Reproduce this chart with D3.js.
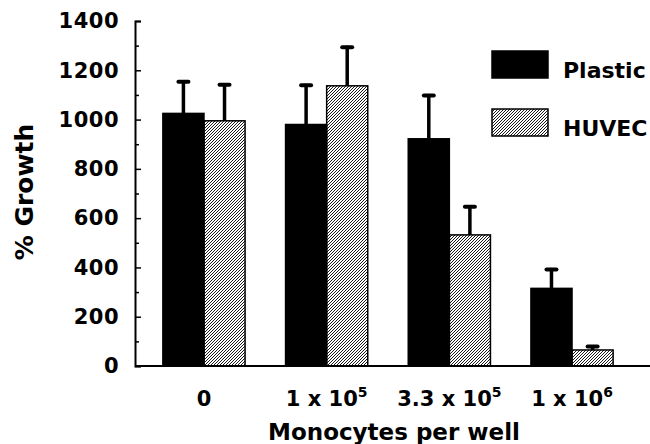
<!DOCTYPE html>
<html>

<head>
  <meta charset="utf-8">
  <title>Monocytes per well</title>
  <script src="https://d3js.org/d3.v7.min.js"></script>
  <style>
    body { margin: 0; background: #fff; }
    text { font-family: "DejaVu Sans", sans-serif; font-weight: bold; fill: #000; }
  </style>
</head>

<body>
  <svg width="650" height="444"></svg>
  <script>
    // values
    const categories = ["0", "1e5", "3.3e5", "1e6"];
    const tickBase = ["0", "1 x 10", "3.3 x 10", "1 x 10"];
    const tickExp = ["", "5", "5", "6"];
    const seriesNames = ["Plastic", "HUVEC"];
    const plasticMean = [1025, 980, 922, 315];
    const plasticErr = [135, 165, 182, 83];
    const huvecMean = [995, 1137, 532, 65];
    const huvecErr = [152, 163, 120, 20];
    const yTicks = [0, 200, 400, 600, 800, 1000, 1200, 1400];

    const svg = d3.select("svg");

    const defs = svg.append("defs");
    defs.append("pattern")
      .attr("id", "hatch")
      .attr("patternUnits", "userSpaceOnUse")
      .attr("width", 3)
      .attr("height", 3)
      .append("path")
      .attr("d", "M-1,1 l2,-2 M0,3 l3,-3 M2,4 l2,-2")
      .attr("stroke", "#000")
      .attr("stroke-width", 0.9);

    const plotLeft = 135, plotTop = 21, plotBottom = 366;

    const y = d3.scaleLinear().domain([0, 1400]).range([plotBottom, plotTop]);

    const x0 = d3.scaleBand()
      .domain(categories)
      .range([136, 640])
      .paddingInner(0.33)
      .paddingOuter(0.219);

    const x1 = d3.scaleBand()
      .domain(seriesNames)
      .range([0, x0.bandwidth()]);

    const fills = { Plastic: "#000", HUVEC: "url(#hatch)" };

    const rows = [];
    categories.forEach((c, i) => {
      rows.push({ cat: c, series: "Plastic", value: plasticMean[i], err: plasticErr[i] });
      rows.push({ cat: c, series: "HUVEC", value: huvecMean[i], err: huvecErr[i] });
    });

    // bars
    svg.append("g")
      .selectAll("rect")
      .data(rows)
      .enter()
      .append("rect")
      .attr("x", d => x0(d.cat) + x1(d.series))
      .attr("y", d => y(d.value))
      .attr("width", x1.bandwidth())
      .attr("height", d => y(0) - y(d.value))
      .attr("fill", d => fills[d.series])
      .attr("stroke", "#000")
      .attr("stroke-width", 1.5);

    // error bars (upper only)
    const err = svg.append("g");
    err.selectAll("line.stem")
      .data(rows)
      .enter()
      .append("line")
      .attr("class", "stem")
      .attr("x1", d => x0(d.cat) + x1(d.series) + x1.bandwidth() / 2)
      .attr("x2", d => x0(d.cat) + x1(d.series) + x1.bandwidth() / 2)
      .attr("y1", d => y(d.value))
      .attr("y2", d => y(d.value + d.err))
      .attr("stroke", "#000")
      .attr("stroke-width", 3.5);
    err.selectAll("line.cap")
      .data(rows)
      .enter()
      .append("line")
      .attr("class", "cap")
      .attr("x1", d => x0(d.cat) + x1(d.series) + x1.bandwidth() / 2 - 5)
      .attr("x2", d => x0(d.cat) + x1(d.series) + x1.bandwidth() / 2 + 5)
      .attr("y1", d => y(d.value + d.err) + 1.5)
      .attr("y2", d => y(d.value + d.err) + 1.5)
      .attr("stroke", "#000")
      .attr("stroke-width", 4)
      .attr("stroke-linecap", "round");

    // y axis: minor ticks, then major ticks with labels
    svg.append("g")
      .attr("transform", `translate(${plotLeft},0)`)
      .call(d3.axisLeft(y).tickValues(d3.range(100, 1400, 200)).tickSize(-4).tickFormat(""))
      .call(g => g.select(".domain").remove())
      .call(g => g.selectAll("line").attr("stroke-width", 1.5));

    svg.append("g")
      .attr("transform", `translate(${plotLeft},0)`)
      .call(d3.axisLeft(y).tickValues(yTicks).tickFormat(d3.format("d"))
        .tickSizeInner(-6).tickSizeOuter(-6).tickPadding(16))
      .call(g => g.select(".domain").attr("stroke-width", 2))
      .call(g => g.selectAll(".tick line").attr("stroke-width", 1.5))
      .call(g => g.selectAll("text")
        .attr("font-family", "DejaVu Sans")
        .attr("font-weight", "bold")
        .attr("font-size", 21)
        .attr("letter-spacing", 0.5)
        .attr("fill", "#000"));

    // x baseline
    svg.append("line")
      .attr("x1", plotLeft)
      .attr("x2", 650)
      .attr("y1", y(0))
      .attr("y2", y(0))
      .attr("stroke", "#000")
      .attr("stroke-width", 2);

    // x tick labels with superscripts
    const xAxis = svg.append("g")
      .attr("transform", `translate(0,${y(0)})`)
      .call(d3.axisBottom(x0).tickSize(0).tickFormat(""))
      .call(g => g.select(".domain").remove());

    xAxis.selectAll(".tick text")
      .attr("y", 40)
      .attr("dy", null)
      .attr("font-family", "DejaVu Sans")
      .attr("font-weight", "bold")
      .attr("font-size", 21)
      .attr("fill", "#000")
      .each(function (d, i) {
        const t = d3.select(this);
        t.append("tspan").text(tickBase[i]);
        if (tickExp[i]) {
          t.append("tspan")
            .attr("font-size", 14)
            .attr("dy", -9)
            .text(tickExp[i]);
        }
      });

    // axis titles
    svg.append("text")
      .attr("transform", "rotate(-90)")
      .attr("x", -192)
      .attr("y", 33)
      .attr("text-anchor", "middle")
      .attr("font-size", 25)
      .text("% Growth");

    svg.append("text")
      .attr("x", 394)
      .attr("y", 440)
      .attr("text-anchor", "middle")
      .attr("font-size", 23)
      .text("Monocytes per well");

    // legend
    const legendY = [51, 109];
    const legend = svg.append("g")
      .selectAll("g")
      .data(seriesNames)
      .enter()
      .append("g")
      .attr("transform", (d, i) => `translate(492,${legendY[i]})`);

    legend.append("rect")
      .attr("width", 56)
      .attr("height", 27)
      .attr("fill", d => fills[d])
      .attr("stroke", "#000")
      .attr("stroke-width", 1.5);

    legend.append("text")
      .attr("x", 71)
      .attr("y", 27)
      .attr("font-size", 22)
      .text(d => d);
  </script>
</body>

</html>
